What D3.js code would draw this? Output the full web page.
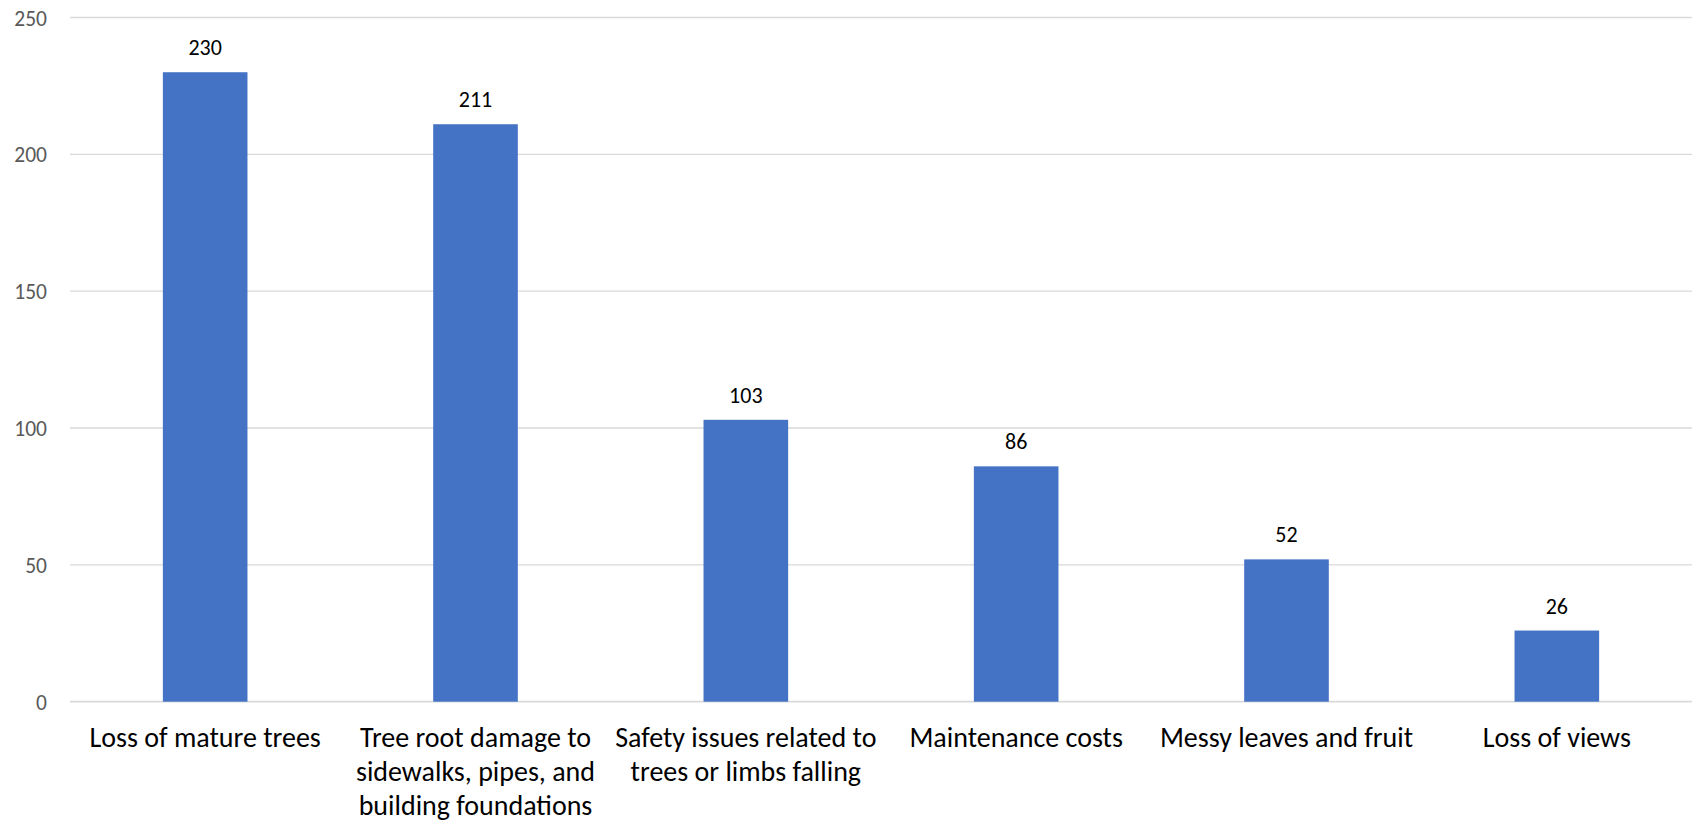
<!DOCTYPE html>
<html>
<head>
<meta charset="utf-8">
<script src="https://cdn.jsdelivr.net/npm/d3@7"></script>
<style>
  html, body { margin: 0; padding: 0; background: #fff; }
  svg { display: block; }
</style>
</head>
<body>
<svg id="chart" width="1692" height="822"></svg>
<script>
const categories = [
  "Loss of mature trees",
  "Tree root damage to\nsidewalks, pipes, and\nbuilding foundations",
  "Safety issues related to\ntrees or limbs falling",
  "Maintenance costs",
  "Messy leaves and fruit",
  "Loss of views"
];
const values = [230, 211, 103, 86, 52, 26];
const yTicks = [0, 50, 100, 150, 200, 250];

const W = 1692, H = 822;
const m = { left: 70, right: 0, top: 17.5, bottom: 120.3 };
const FONT = "Carlito, Calibri, Lato, sans-serif";

const svg = d3.select("#chart");

const x = d3.scaleBand()
  .domain(categories)
  .range([m.left, W - m.right])
  .paddingInner(0.687)
  .paddingOuter(0.3435);

const y = d3.scaleLinear()
  .domain([0, 250])
  .range([H - m.bottom, m.top]);

// gridlines
svg.append("g")
  .selectAll("line")
  .data(yTicks)
  .join("line")
  .attr("x1", m.left)
  .attr("x2", W - m.right)
  .attr("y1", d => y(d))
  .attr("y2", d => y(d))
  .attr("stroke", "#d9d9d9")
  .attr("stroke-width", d => d === 0 ? 1.8 : 1.3);

// y tick labels
svg.append("g")
  .selectAll("text")
  .data(yTicks)
  .join("text")
  .attr("x", 47)
  .attr("y", d => y(d) + 8)
  .attr("text-anchor", "end")
  .attr("font-family", FONT)
  .attr("font-size", 21.5)
  .attr("fill", "#595959")
  .text(d => d);

// bars
svg.append("g")
  .selectAll("rect")
  .data(values)
  .join("rect")
  .attr("x", (d, i) => x(categories[i]))
  .attr("width", x.bandwidth())
  .attr("y", d => y(d))
  .attr("height", d => y(0) - y(d))
  .attr("fill", "#4472C4");

// value labels
svg.append("g")
  .selectAll("text")
  .data(values)
  .join("text")
  .attr("x", (d, i) => x(categories[i]) + x.bandwidth() / 2)
  .attr("y", d => y(d) - 17)
  .attr("text-anchor", "middle")
  .attr("font-family", FONT)
  .attr("font-size", 22)
  .attr("fill", "#000")
  .text(d => d);

// category labels
const cat = svg.append("g")
  .selectAll("text")
  .data(categories)
  .join("text")
  .attr("x", d => x(d) + x.bandwidth() / 2)
  .attr("y", y(0) + 45)
  .attr("text-anchor", "middle")
  .attr("font-family", FONT)
  .attr("font-size", 28)
  .attr("fill", "#000");
cat.selectAll("tspan")
  .data(d => d.split("\n"))
  .join("tspan")
  .attr("x", function() { return d3.select(this.parentNode).attr("x"); })
  .attr("dy", (d, i) => i === 0 ? 0 : 34.3)
  .text(d => d);
</script>
</body>
</html>
